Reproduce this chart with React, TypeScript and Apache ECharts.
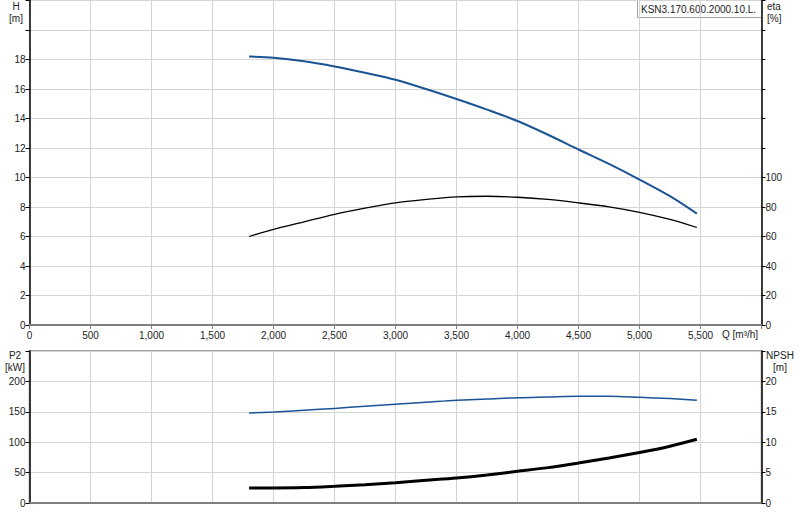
import React, { useEffect, useRef } from 'react';
import * as echarts from 'echarts';

// flow points Q (m³/h)
const flow = [1800, 2000, 2250, 2500, 2750, 3000, 3250, 3500, 3750, 4000, 4250, 4500, 4750, 5000, 5250, 5470];
// head H [m]
const head = [18.2, 18.12, 17.88, 17.53, 17.1, 16.63, 16.0, 15.32, 14.6, 13.83, 12.9, 11.9, 10.92, 9.86, 8.73, 7.55];
// efficiency eta [%]
const eta = [60, 64.8, 69.9, 75.0, 79.2, 82.8, 85.1, 86.9, 87.3, 86.6, 85.1, 82.8, 80.1, 76.4, 71.6, 66.1];
// power P2 [kW]
const power = [148, 149.7, 152.5, 155.6, 159, 162.3, 165.6, 169, 171, 173.3, 174.4, 175.5, 175.5, 173.8, 171.7, 169];
// NPSH [m]
const npsh = [2.47, 2.47, 2.53, 2.75, 3.02, 3.35, 3.73, 4.11, 4.61, 5.21, 5.82, 6.58, 7.4, 8.29, 9.33, 10.48];

const pumpName = 'KSN3.170.600.2000.10.L.';

const FONT = '"Liberation Sans", Arial, sans-serif';
const BLUE = '#1a5494';
const GRID_LINE = '#d4d4d4';
const AXIS_GRAY = '#808080';
const LABEL = '#222';

const pairs = (ys: number[]) => flow.map((q, i) => [q, ys[i]]);

const fmtQ = (v: number) => (v >= 6000 ? '' : v.toLocaleString('en-US'));

const App: React.FC = () => {
  const chartRef = useRef<HTMLDivElement>(null);

  useEffect(() => {
    if (!chartRef.current) return;
    const chart = echarts.init(chartRef.current, undefined, { renderer: 'svg' });

    const xBase = (gridIndex: number, showLabels: boolean) => ({
      type: 'value' as const,
      gridIndex,
      min: 0,
      max: 6000,
      interval: 500,
      axisLine: { show: true, lineStyle: { color: AXIS_GRAY, width: 2 } },
      axisTick: { show: showLabels, length: 4, lineStyle: { color: AXIS_GRAY } },
      axisLabel: {
        show: showLabels,
        color: LABEL,
        fontFamily: FONT,
        fontSize: 10,
        margin: 5,
        formatter: fmtQ
      },
      splitLine: { show: true, lineStyle: { color: GRID_LINE, width: 1 } }
    });

    const yAxis = (
      gridIndex: number,
      position: 'left' | 'right',
      max: number,
      interval: number,
      labelMax: number,
      split: boolean
    ) => ({
      type: 'value' as const,
      gridIndex,
      position,
      min: 0,
      max,
      interval,
      axisLine: { show: true, lineStyle: { color: '#000', width: 1.5 } },
      axisTick: { show: true, length: 4, lineStyle: { color: '#000' } },
      axisLabel: {
        color: LABEL,
        fontFamily: FONT,
        fontSize: 10,
        margin: 4,
        formatter: (v: number) => (v > labelMax ? '' : String(v))
      },
      splitLine: { show: split, lineStyle: { color: GRID_LINE, width: 1 } }
    });

    // axis unit captions as title blocks (two lines)
    const caption = (text: string, left: number, top: number, align = 'center') => ({
      text,
      left,
      top,
      padding: 0,
      textAlign: align,
      textStyle: {
        color: LABEL,
        fontFamily: FONT,
        fontSize: 10,
        fontWeight: 'normal',
        lineHeight: 12
      }
    });

    const line = (xi: number, yi: number, data: number[], color: string, width: number) => ({
      type: 'line',
      xAxisIndex: xi,
      yAxisIndex: yi,
      data: pairs(data),
      smooth: 0.3,
      showSymbol: false,
      lineStyle: { color, width }
    });

    chart.setOption({
      animation: false,
      backgroundColor: '#fff',
      title: [
        caption('H\n[m]', 16, 0),
        caption('eta\n[%]', 767, 0, 'left'),
        caption('P2\n[kW]', 15, 349),
        caption('NPSH\n[m]', 780, 349),
        caption('Q [m³/h]', 722, 328, 'left')
      ],
      grid: [
        { left: 29.5, right: 38.5, top: 0.5, height: 324.5, show: true, borderColor: AXIS_GRAY, borderWidth: 1 },
        { left: 29.5, right: 38.5, top: 351, height: 152, show: true, borderColor: AXIS_GRAY, borderWidth: 1.5 }
      ],
      xAxis: [xBase(0, true), xBase(1, false)],
      yAxis: [
        yAxis(0, 'left', 22, 2, 18, true),
        yAxis(0, 'right', 220, 20, 100, false),
        yAxis(1, 'left', 250, 50, 200, true),
        yAxis(1, 'right', 25, 5, 20, false)
      ],
      series: [
        line(0, 0, head, BLUE, 2),
        line(0, 1, eta, '#000', 1.3),
        line(1, 2, power, BLUE, 1.5),
        line(1, 3, npsh, '#000', 3)
      ],
      graphic: [
        {
          type: 'rect',
          shape: { x: 637.5, y: 0.5, width: 124, height: 17 },
          style: { fill: '#fff', stroke: '#a0a0a0', lineWidth: 1 }
        },
        {
          type: 'text',
          x: 641,
          y: 4,
          style: { text: pumpName, fill: LABEL, font: `10px ${FONT}` }
        }
      ]
    });

    return () => {
      chart.dispose();
    };
  }, []);

  return (
    <div
      ref={chartRef}
      style={{ position: 'fixed', left: 0, top: 0, width: 800, height: 520 }}
    />
  );
};

export default App;
